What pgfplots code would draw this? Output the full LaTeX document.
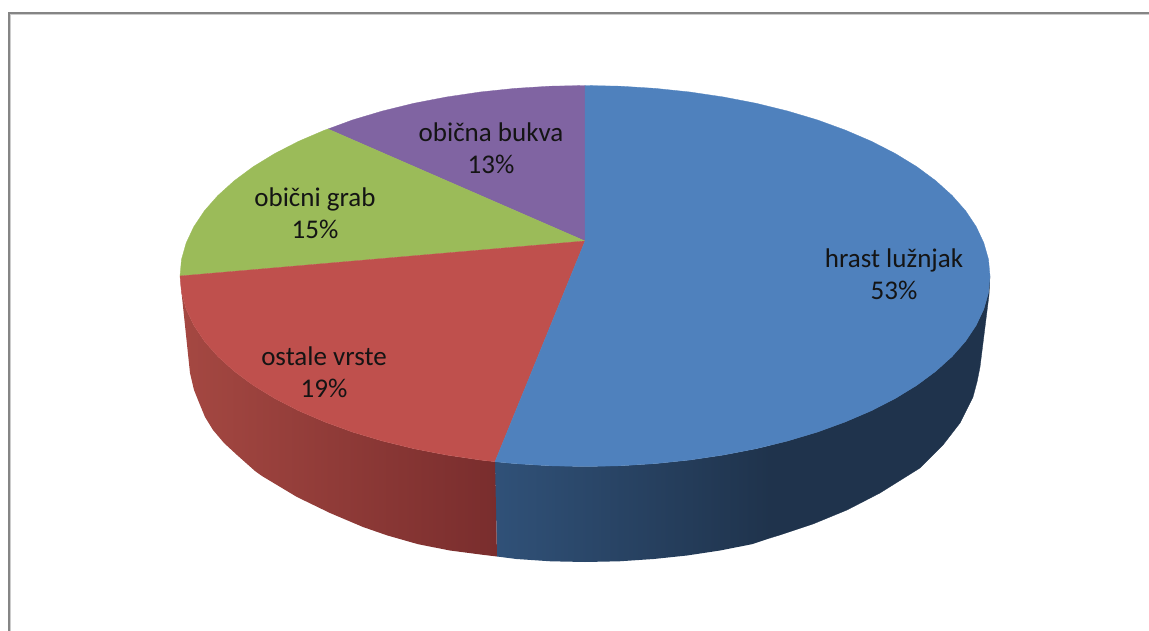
\documentclass[border=0pt]{standalone}
\usepackage{fontspec}
\setmainfont{Carlito}
\usepackage{pgfplots}
\pgfplotsset{compat=1.18}
\definecolor{cBlue}{HTML}{4F81BD}
\definecolor{cRed}{HTML}{BF504D}
\definecolor{cGreen}{HTML}{9BBB59}
\definecolor{cPurple}{HTML}{8064A2}
\definecolor{sBlueA}{HTML}{305178}
\definecolor{sBlueB}{HTML}{1F334C}
\definecolor{sRedA}{HTML}{A54842}
\definecolor{sRedM}{HTML}{943D3A}
\definecolor{sRedB}{HTML}{792D2D}
\begin{document}
\begin{tikzpicture}
\path[use as bounding box] (0,0) rectangle (1149pt,631pt);
\begin{axis}[
  at={(0,0)}, anchor=south west,
  width=1149pt, height=631pt, scale only axis,
  xmin=0, xmax=1149, ymin=0, ymax=631, y dir=reverse,
  axis lines=none, ticks=none, clip=true,
  nodes={font=\fontsize{27}{32}\selectfont, align=center, text=black!92, inner sep=0pt}
]
% frame
\addplot[color=black!20, line width=1pt, forget plot] coordinates {(10.8,631) (10.8,15) (1149,15)};
\addplot[color=black!48, line width=2pt, forget plot] coordinates {(9,631) (9,13.2) (1149,13.2)};

% side: hrast lužnjak (shaded part)
\addplot[draw=none, left color=sBlueA, right color=sBlueB, forget plot] coordinates {
 (495,461.7) (514.7,463.6) (549.7,465.8) (585,466.5) (620.3,465.8) (655.3,463.6) (689.8,460)
 (723.5,455) (756.2,448.7) (770,445.4) (770.5,445.4) (770.5,538) (751.9,544.2) (720,550.5) (687,555.5)
 (653.6,559) (619.4,561.3) (585,562) (550.6,561.3) (516.4,559) (497,556.5)} --cycle;
% side: hrast lužnjak (flat part)
\addplot[fill=sBlueB, draw=sBlueB, line width=0.3pt, forget plot] coordinates {
 (770,445.4) (787.5,441) (817.3,432.1) (845.3,421.9) (871.4,410.7) (895.2,398.5) (916.8,385.3)
 (935.7,371.3) (952.1,356.5) (965.6,341.2) (976.2,325.3) (983.8,309.1) (988.5,292.6) (990,276)
 (989,295) (980,367) (977,382) (973,397) (960,423) (943,445) (920,468) (912,473) (880,493)
 (847,510) (813,524) (780,535) (770,538)} --cycle;
% side: ostale vrste
\addplot[draw=none, left color=sRedA, middle color=sRedM, right color=sRedB, forget plot] coordinates {
 (180,276) (182,297) (190,373) (194,390) (198,400) (205,417) (213,430) (224,443) (237,455) (255,471) (262,476)
 (297,497) (330,513) (363,527) (387.5,535.5) (418.1,544.2) (449.9,550.5) (482.8,554.8) (497,556.5)
 (495,461.7) (480.2,460) (446.5,455) (413.8,448.7) (382.5,441) (352.7,432.1) (324.7,421.9) (298.6,410.7)
 (274.8,398.5) (253.2,385.3) (234.3,371.3) (217.9,356.5) (204.4,341.2) (193.8,325.3) (186.2,309.1) (181.5,292.6)} --cycle;

% top: obična bukva
\addplot[fill=cPurple, draw=cPurple, line width=0.3pt, forget plot] coordinates {
 (585,241) (328,129) (352.7,119.9) (382.5,111) (413.8,103.3) (446.5,97) (480.2,92) (514.7,88.4) (549.7,86.2) (585,85.5)} --cycle;
% top: obični grab
\addplot[fill=cGreen, draw=cGreen, line width=0.3pt, forget plot] coordinates {
 (585,241) (180,276) (181.5,259.4) (186.2,242.9) (193.8,226.7) (204.4,210.8) (217.9,195.5) (234.3,180.7)
 (253.2,166.7) (274.8,153.5) (298.6,141.3) (324.7,130.1) (328,129)} --cycle;
% top: ostale vrste
\addplot[fill=cRed, draw=cRed, line width=0.3pt, forget plot] coordinates {
 (585,241) (495,461.7) (480.2,460) (446.5,455) (413.8,448.7) (382.5,441) (352.7,432.1) (324.7,421.9) (298.6,410.7)
 (274.8,398.5) (253.2,385.3) (234.3,371.3) (217.9,356.5) (204.4,341.2) (193.8,325.3) (186.2,309.1) (181.5,292.6) (180,276)} --cycle;
% top: hrast lužnjak
\addplot[fill=cBlue, draw=cBlue, line width=0.3pt, forget plot] coordinates {
 (585,241) (585,85.5) (620.3,86.2) (655.3,88.4) (689.8,92) (723.5,97) (756.2,103.3) (787.5,111) (817.3,119.9)
 (845.3,130.1) (871.4,141.3) (895.2,153.5) (916.8,166.7) (935.7,180.7) (952.1,195.5) (965.6,210.8) (976.2,226.7)
 (983.8,242.9) (988.5,259.4) (990,276) (988.5,292.6) (983.8,309.1) (976.2,325.3) (965.6,341.2) (952.1,356.5)
 (935.7,371.3) (916.8,385.3) (895.2,398.5) (871.4,410.7) (845.3,421.9) (817.3,432.1) (787.5,441) (756.2,448.7)
 (723.5,455) (689.8,460) (655.3,463.6) (620.3,465.8) (585,466.5) (549.7,465.8) (514.7,463.6) (495,461.7)} --cycle;

\node at (axis cs:894,274) {hrast lužnjak\\53\%};
\node at (axis cs:324,372) {ostale vrste\\19\%};
\node at (axis cs:315,213) {obični grab\\15\%};
\node at (axis cs:491,148) {obična bukva\\13\%};
\end{axis}
\end{tikzpicture}
\end{document}
